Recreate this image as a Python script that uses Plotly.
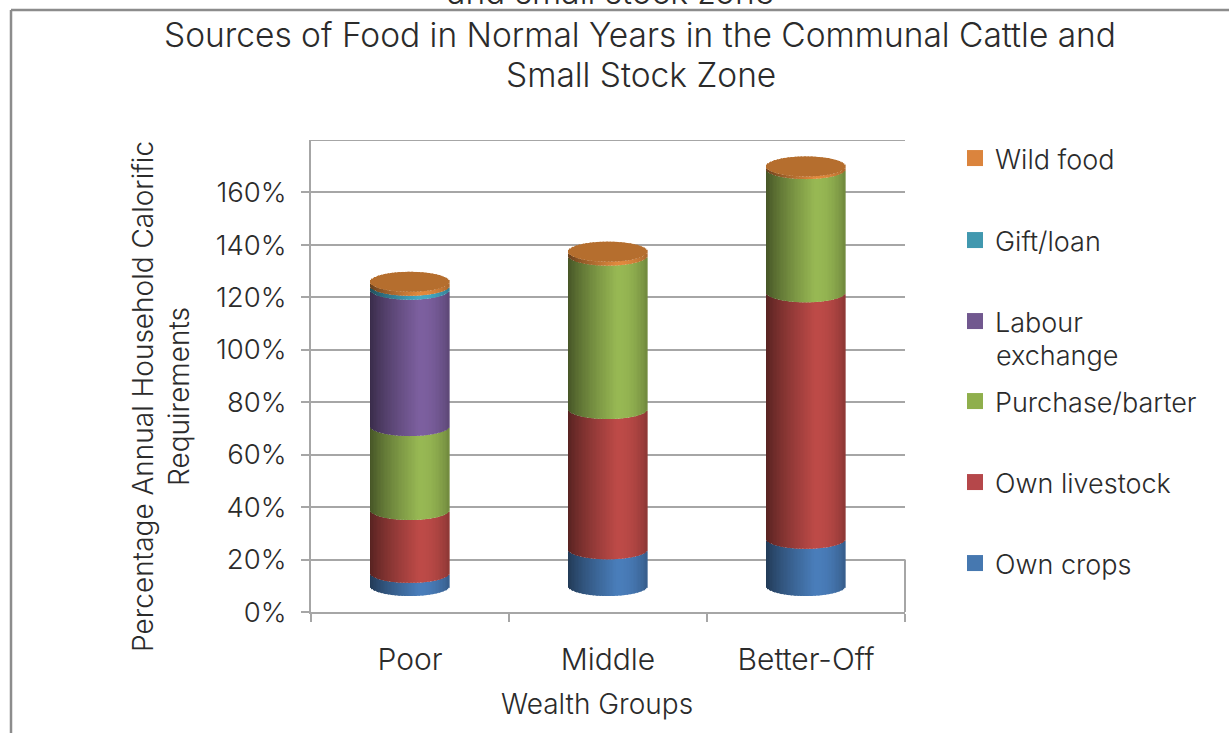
import math
import plotly.graph_objects as go

# ---- data (percent of annual requirements) ----
categories = ["Poor", "Middle", "Better-Off"]
own_crops = [5, 14, 18]
own_livestock = [24, 53.5, 94]
purchase_barter = [32, 58.5, 47]
labour_exchange = [52, 0, 0]
gift_loan = [1.5, 0, 0]
wild_food = [1.5, 1.5, 1]
tick_values = [0, 20, 40, 60, 80, 100, 120, 140, 160]

series = [
    ("Own crops", own_crops, (74, 126, 187), "#4678B0", 565),
    ("Own livestock", own_livestock, (190, 75, 72), "#B5474A", 484),
    ("Purchase/barter", purchase_barter, (152, 185, 84), "#8FAF4C", 403),
    ("Labour", labour_exchange, (125, 96, 160), "#71588F", 323),
    ("Gift/loan", gift_loan, (70, 170, 197), "#4198AF", 242),
    ("Wild food", wild_food, (226, 138, 62), "#DB843D", 160),
]
TOP_COLOR = "rgb(181,110,46)"

# ---- frame geometry (pixels) ----
W, H = 1229, 733
L, R, T, B = 311, 905, 140, 612
PX = (B - T) / 180.0            # pixels per percentage point
FLOOR = (B - 586) / PX          # apparent 3-D lift of the cylinder base
RY = 10 / PX
HALF = 79 / 198 / 2
N = 56
GRID = "#A6A6A6"
FONT = "Inter"
WEIGHT = 300
INK = "#2b2b2b"


def px(x):
    return (x - L) / (R - L)


def py(y):
    return (B - y) / (B - T)


def shade(rgb, t):
    if t < 0.25:
        f = 0.45 + 0.55 * ((t + 1) / 1.25) ** 0.8
    else:
        f = 1 - 0.25 * ((t - 0.25) / 0.75) ** 2
    return "rgb(%d,%d,%d)" % tuple(int(c * f) for c in rgb)


ts = [-1 + (k + 0.5) * 2 / N for k in range(N)]
fig = go.Figure()
cum = [0.0] * len(categories)
for name, vals, rgb, legend_color, _ in series:
    xs, ys, bases, cols = [], [], [], []
    for i in range(len(categories)):
        if vals[i] > 0:
            for t in ts:
                xs.append(i + HALF * t)
                ys.append(vals[i])
                bases.append(cum[i] - RY * math.sqrt(1 - t * t))
                cols.append(shade(rgb, t))
    fig.add_trace(go.Bar(x=xs, y=ys, base=bases, width=2 * HALF / N * 1.2,
                         marker=dict(color=cols, line_width=0), yaxis="y2",
                         showlegend=False, hoverinfo="skip"))
    cum = [c + v for c, v in zip(cum, vals)]

# top disc of each cylinder
xs, ys, bases = [], [], []
for i in range(len(categories)):
    for t in ts:
        c = RY * math.sqrt(1 - t * t)
        xs.append(i + HALF * t)
        ys.append(2 * c)
        bases.append(cum[i] - c)
fig.add_trace(go.Bar(x=xs, y=ys, base=bases, width=2 * HALF / N * 1.2,
                     marker=dict(color=TOP_COLOR, line_width=0), yaxis="y2",
                     showlegend=False, hoverinfo="skip"))

# legend entries, each placed on its own row
legends = {}
for n, (name, vals, rgb, legend_color, row_y) in enumerate(series):
    key = "legend" if n == 0 else "legend%d" % (n + 1)
    fig.add_trace(go.Scatter(x=[None], y=[None], mode="markers", name=name,
                             marker=dict(symbol="square", size=16, color=legend_color),
                             legend=key))
    legends[key] = dict(x=px(955), y=py(row_y - 26), xanchor="left", yanchor="top",
                        bgcolor="rgba(0,0,0,0)", borderwidth=0, itemwidth=30,
                        font=dict(family=FONT, size=27, color=INK, weight=WEIGHT))

line = dict(color=GRID, width=2)
shapes = [
    dict(type="line", xref="paper", yref="y", x0=0, x1=1, y0=180, y1=180, line=line),
    dict(type="line", xref="paper", yref="y", x0=1, x1=1, y0=0, y1=20, line=line),
    dict(type="line", xref="paper", yref="paper", x0=px(11), x1=px(11), y0=py(10), y1=py(733),
         line=dict(color="#8c8c8c", width=2.5)),
    dict(type="line", xref="paper", yref="paper", x0=px(11), x1=px(1229), y0=py(10), y1=py(10),
         line=dict(color="#8c8c8c", width=2.5)),
]


def note(text, x, y, size, angle=0, anchor="center"):
    return dict(text=text, xref="paper", yref="paper", x=px(x), y=py(y), xanchor=anchor,
                yanchor="middle", showarrow=False, textangle=angle,
                font=dict(family=FONT, size=size, color=INK, weight=WEIGHT))


annotations = [
    note("and small stock zone", 610, -8, 33.5),
    note("Sources of Food in Normal Years in the Communal Cattle and", 640, 35, 33.5),
    note("Small Stock Zone", 641, 75, 33.5),
    note("Percentage Annual Household Calorific<br>Requirements", 161, 397, 28, -90),
    note("Wealth Groups", 597, 704, 28),
    note("exchange", 994, 355, 27, anchor="left"),
]

fig.update_layout(
    width=W, height=H, autosize=False, showlegend=True, barmode="overlay",
    margin=dict(l=L, r=W - R, t=T, b=H - B, pad=0),
    paper_bgcolor="white", plot_bgcolor="white",
    shapes=shapes, annotations=annotations, **legends,
    xaxis=dict(range=[-0.5, 2.5], tickmode="array", tickvals=[0, 1, 2], ticktext=categories,
               ticks="", showgrid=False, zeroline=False, showline=True, linecolor=GRID, linewidth=2,
               ticklabelstandoff=20, tickfont=dict(family=FONT, size=30, color=INK, weight=WEIGHT),
               minor=dict(tickmode="array", tickvals=[-0.5, 0.5, 1.5, 2.5], ticks="outside",
                          ticklen=8, tickwidth=2, tickcolor=GRID, showgrid=False)),
    yaxis=dict(range=[0, 180], tickmode="array", tickvals=tick_values,
               ticktext=["%d%%" % v for v in tick_values], ticks="outside", ticklen=8, tickwidth=2,
               tickcolor=GRID, showgrid=True, gridcolor=GRID, gridwidth=2, zeroline=False,
               showline=True, linecolor=GRID, linewidth=2, ticklabelstandoff=9,
               tickfont=dict(family=FONT, size=27.5, color=INK, weight=WEIGHT)),
    yaxis2=dict(range=[-FLOOR, 180 - FLOOR], overlaying="y", visible=False),
)

fig.write_html("out.html", config=dict(displayModeBar=False),
               post_script="document.body.style.margin='0';document.body.style.overflow='hidden';")
